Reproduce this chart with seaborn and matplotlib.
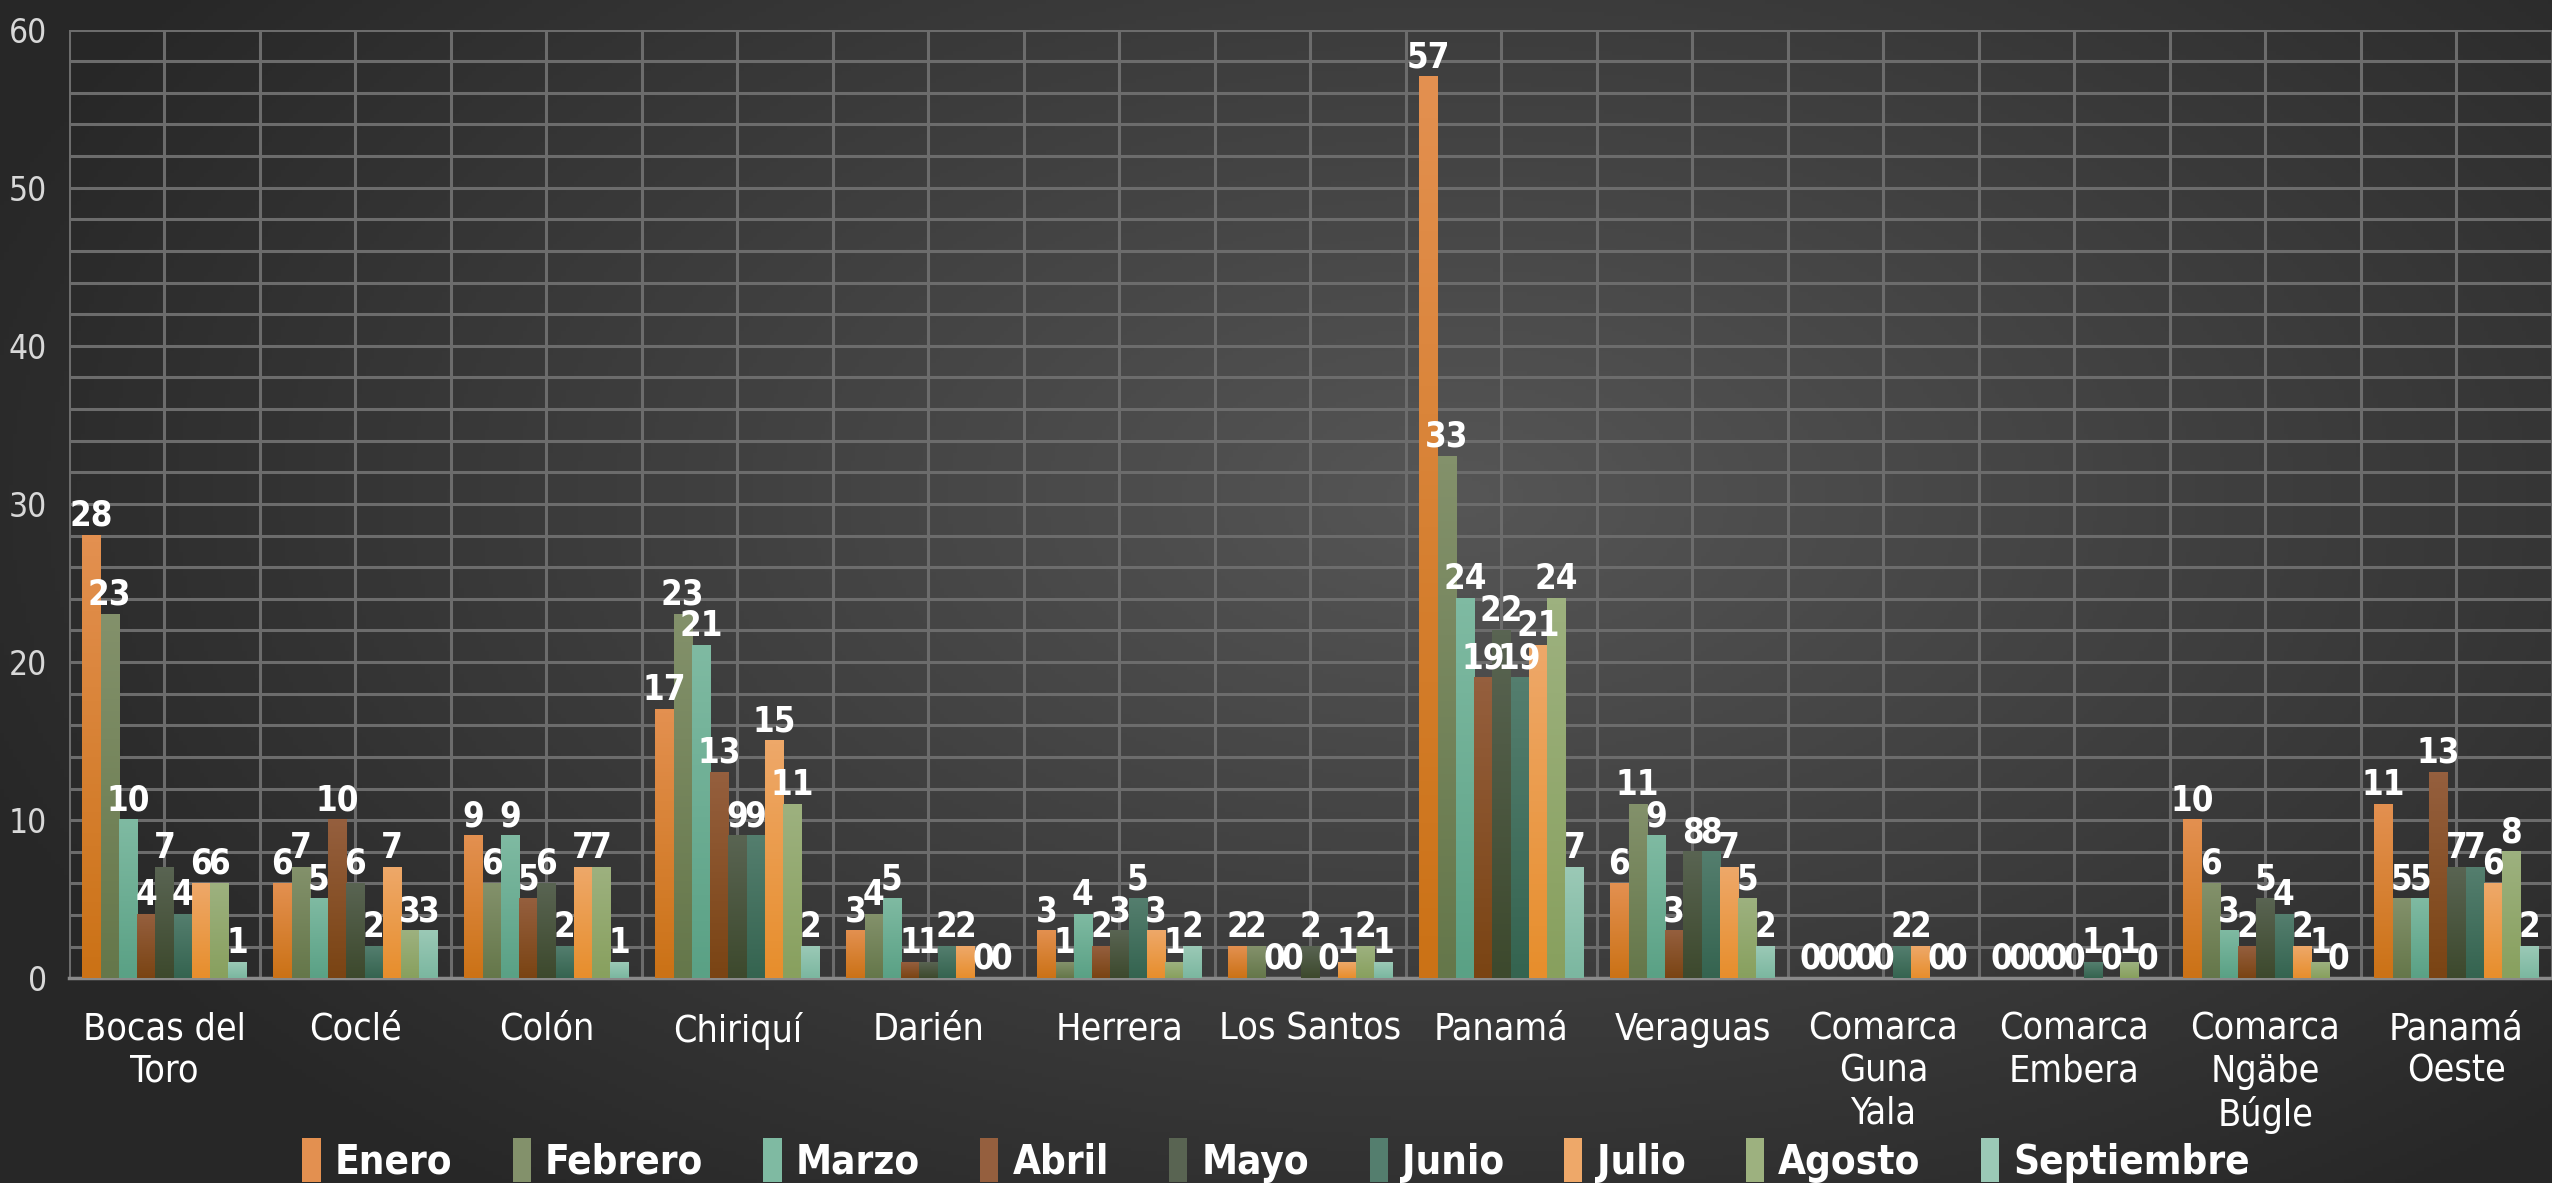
import numpy as np
import pandas as pd
import matplotlib
matplotlib.use('Agg')
import matplotlib.pyplot as plt
import seaborn as sns
from matplotlib.colors import LinearSegmentedColormap
from matplotlib.patches import Patch

regions = ['Bocas del\nToro', 'Coclé', 'Colón', 'Chiriquí', 'Darién', 'Herrera',
           'Los Santos', 'Panamá', 'Veraguas', 'Comarca\nGuna\nYala',
           'Comarca\nEmbera', 'Comarca\nNgäbe\nBúgle', 'Panamá\nOeste']
months = ['Enero', 'Febrero', 'Marzo', 'Abril', 'Mayo', 'Junio', 'Julio',
          'Agosto', 'Septiembre']

enero = [28, 6, 9, 17, 3, 3, 2, 57, 6, 0, 0, 10, 11]
febrero = [23, 7, 6, 23, 4, 1, 2, 33, 11, 0, 0, 6, 5]
marzo = [10, 5, 9, 21, 5, 4, 0, 24, 9, 0, 0, 3, 5]
abril = [4, 10, 5, 13, 1, 2, 0, 19, 3, 0, 0, 2, 13]
mayo = [7, 6, 6, 9, 1, 3, 2, 22, 8, 0, 0, 5, 7]
junio = [4, 2, 2, 9, 2, 5, 0, 19, 8, 2, 1, 4, 7]
julio = [6, 7, 7, 15, 2, 3, 1, 21, 7, 2, 0, 2, 6]
agosto = [6, 3, 7, 11, 0, 1, 2, 24, 5, 0, 1, 1, 8]
septiembre = [1, 3, 1, 2, 0, 2, 1, 7, 2, 0, 0, 0, 2]

series = [enero, febrero, marzo, abril, mayo, junio, julio, agosto, septiembre]

# bar gradient colours (top, bottom) per month
top_cols = ['#E39050', '#83916B', '#7FBAA2', '#955F3E', '#596452', '#547E6E',
            '#EEA869', '#9DB17F', '#9BC9B6']
bot_cols = ['#CB7216', '#65774A', '#5AA185', '#7A4413', '#3D492D', '#356450',
            '#E78E2C', '#88A05E', '#7BB7A0']
palette = dict(zip(months, top_cols))

df = pd.DataFrame([
    {'region': r, 'month': m, 'value': s[i]}
    for m, s in zip(months, series) for i, r in enumerate(regions)
])

sns.set_style('dark')
plt.rcParams['font.family'] = ['DejaVu Sans']
plt.rcParams['font.stretch'] = 'condensed'

fig = plt.figure(figsize=(25.52, 11.83), dpi=100)

# radial background
bg = fig.add_axes([0, 0, 1, 1], zorder=-5)
yy, xx = np.mgrid[0:1:300j, 0:1:600j]
r = np.sqrt(((xx - 0.57) / 0.62) ** 2 + ((yy - 0.42) / 0.75) ** 2)
r = np.clip(r, 0, 1)
bg_cmap = LinearSegmentedColormap.from_list('bg', ['#565656', '#272727'])
bg.imshow(r, cmap=bg_cmap, aspect='auto', extent=[0, 1, 0, 1], vmin=0, vmax=1)
bg.axis('off')

ax = fig.add_axes([0.027, 0.173, 0.973, 0.802])
ax.patch.set_alpha(0)

sns.barplot(data=df, x='region', y='value', hue='month', palette=palette,
            width=0.86, saturation=1, errorbar=None, legend=False, ax=ax)

for cont, ct, cb in zip(ax.containers, top_cols, bot_cols):
    cm = LinearSegmentedColormap.from_list('g', [cb, ct])
    for bar in cont:
        h = bar.get_height()
        bar.set_facecolor('none')
        bar.set_edgecolor('none')
        if h > 0:
            x0 = bar.get_x()
            w = bar.get_width()
            ax.imshow(np.linspace(0, 1, 64).reshape(-1, 1), extent=[x0, x0 + w, 0, h],
                      origin='lower', cmap=cm, aspect='auto', zorder=3)
    ax.bar_label(cont, fmt='%d', padding=2, color='white', fontsize=25,
                 fontweight='bold', zorder=5)

ax.set_xlim(-0.5, 12.5)
ax.set_ylim(0, 60)
ax.set_yticks(range(0, 61, 10))
ax.set_yticks(range(0, 61, 2), minor=True)
ax.set_xticks(np.arange(-0.5, 12.6, 1), minor=True)
ax.set_axisbelow(True)
ax.grid(True, which='both', axis='both', color='#6c6c6c', lw=2.2)
ax.tick_params(axis='both', which='both', length=0)
ax.tick_params(axis='x', colors='white', labelsize=27, pad=24)
ax.tick_params(axis='y', colors='#d8d8d8', labelsize=24, pad=16)
for lbl in ax.get_xticklabels():
    lbl.set_linespacing(1.22)
ax.set_xlabel('')
ax.set_ylabel('')
for s in ['top', 'right', 'left']:
    ax.spines[s].set_visible(False)
ax.spines['bottom'].set_color('#8a8a8a')
ax.spines['bottom'].set_linewidth(2.5)

handles = [Patch(facecolor=c, edgecolor='none', label=m) for m, c in zip(months, top_cols)]
fig.legend(handles=handles, loc='center', bbox_to_anchor=(0.5, 0.019), ncol=9,
           frameon=False, handlelength=0.45, handleheight=1.3, handletextpad=0.35,
           columnspacing=1.5, prop={'size': 29, 'weight': 'bold', 'stretch': 'condensed'},
           labelcolor='white')

fig.savefig('out.png', dpi=100)
